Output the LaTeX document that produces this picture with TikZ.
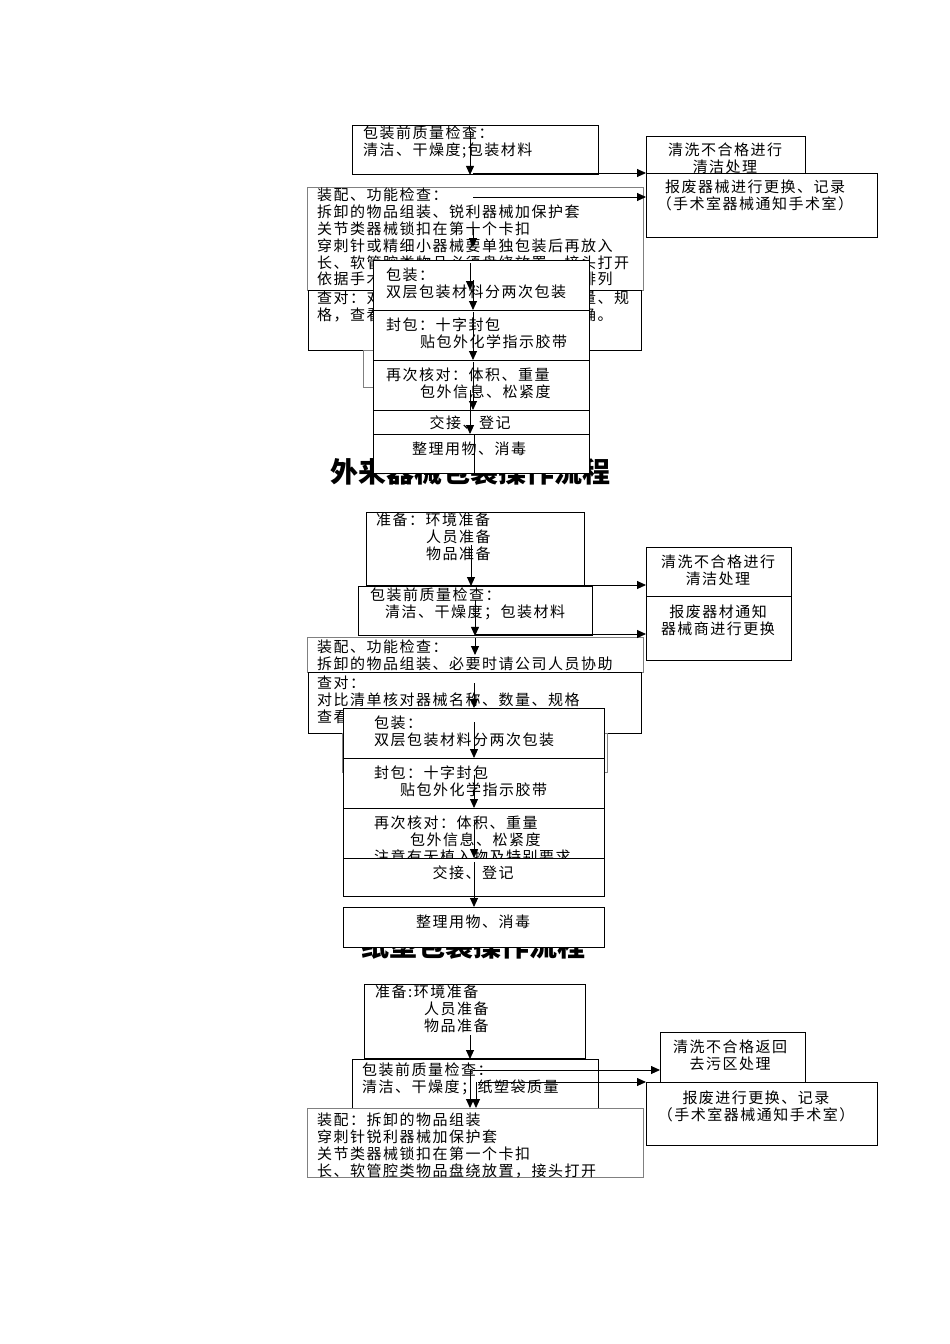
\documentclass[tikz,border=0pt]{standalone}
\usepackage{fontspec}
\newfontfamily\cjk[LetterSpace=10]{Noto Sans CJK SC}
\newfontfamily\cjkhei{Noto Sans CJK SC}
\usetikzlibrary{arrows.meta}
\tikzset{
    box/.style={draw, fill=white, line width=0.9pt, inner sep=0pt, anchor=north west}, % 流程方框
    gray box/.style={box, draw=black!50}, % 灰色边框
    txt/.style={anchor=north west, align=left, inner sep=0pt, font={\cjk\fontsize{15}{16.8}\selectfont}}, % 框内文字
    ctxt/.style={txt, anchor=north, align=center},
    flow arrow/.style={line width=0.9pt, -{Triangle[length=9pt, width=8pt]}}, % 流程箭头
    title text/.style={font={\cjkhei\bfseries\fontsize{28}{32}\selectfont}} % 标题
}

\begin{document}
\begin{tikzpicture}[x=1pt, y=-1pt]
    \useasboundingbox (0,0) rectangle (950,1344);

    % 第一部分
    \node[box, minimum width=246pt, minimum height=49pt] (chk1) at (352,125) {};
    \node[txt] at (363,126) {包装前质量检查：\\清洁、干燥度;包装材料};
    \node[box, minimum width=159pt, minimum height=40pt] (rinse1) at (646,136) {};
    \node[ctxt] at (725,143) {清洗不合格进行\\清洁处理};
    \node[box, minimum width=231pt, minimum height=64pt] (scrap1) at (646,173) {};
    \node[ctxt] at (755,180) {报废器械进行更换、记录\\（手术室器械通知手术室）};
    \node[gray box, minimum width=336pt, minimum height=103pt] (assem1) at (307,187) {};
    \node[txt] at (317,188) {装配、功能检查：\\拆卸的物品组装、锐利器械加保护套\\关节类器械锁扣在第十个卡扣\\穿刺针或精细小器械要单独包装后再放入\\长、软管腔类物品必须盘绕放置，接头打开\\依据手术器械的使用顺序及清单进行排列};
    \node[box, minimum width=333pt, minimum height=60pt] (check1) at (308,290) {};
    \node[txt] at (317,291) {查对：对照清单核对器械的名称、数量、规\\格，查看器械功能是否完好、组装正确。};
    \node[gray box, minimum width=226pt, minimum height=37pt] (stub1) at (363,350) {};
    \node[box, minimum width=216pt, minimum height=50pt] (pk1) at (373,260) {};
    \node[txt] at (386,268) {包装：\\双层包装材料分两次包装};
    \node[box, minimum width=216pt, minimum height=50pt] (seal1) at (373,310) {};
    \node[txt] at (386,318) {封包：十字封包\\\hspace*{34pt}贴包外化学指示胶带};
    \node[box, minimum width=216pt, minimum height=50pt] (rechk1) at (373,360) {};
    \node[txt] at (386,368) {再次核对：体积、重量\\\hspace*{34pt}包外信息、松紧度};
    \node[box, minimum width=216pt, minimum height=24pt] (hand1) at (373,410) {};
    \node[ctxt] at (470,416) {交接、登记};
    \node[title text] (title1) at (470,472) {外来器械包装操作流程};
    \node[box, minimum width=216pt, minimum height=39pt] (tidy1) at (373,434) {};
    \node[ctxt] at (469,442) {整理用物、消毒};

    \foreach \n/\x/\y/\tgt in {a1/470/131/chk1.south, a2/470/263/check1.north, a3/473/280/seal1.north, a4/473/312/rechk1.north, a5/473/362/hand1.north, a6/470/390/tidy1.north}
        {\coordinate (\n) at (\x,\y); \draw[flow arrow] (\n) -- (\n |- \tgt);}
    \foreach \n/\x/\y/\tgt in {b1/473/173/rinse1.west, b2/473/197/scrap1.west}
        {\coordinate (\n) at (\x,\y); \draw[flow arrow] (\n) -- (\n -| \tgt);}
    \coordinate (a7) at (473,229); \coordinate (a7e) at (473,247);
    \draw[flow arrow] (a7) -- (a7e);
    \coordinate (a8) at (474,434);
    \draw[line width=0.9pt] (a8) -- (a8 |- tidy1.south);

    % 第二部分
    \node[box, minimum width=218pt, minimum height=73pt] (prep2) at (366,512) {};
    \node[txt] at (376,513) {准备：环境准备\\\hspace*{50pt}人员准备\\\hspace*{50pt}物品准备};
    \node[box, minimum width=234pt, minimum height=49pt] (chk2) at (358,586) {};
    \node[txt] at (370,588) {包装前质量检查：\\\hspace*{15pt}清洁、干燥度；包装材料};
    \node[box, minimum width=145pt, minimum height=49pt] (rinse2) at (646,547) {};
    \node[ctxt] at (718,555) {清洗不合格进行\\清洁处理};
    \node[box, minimum width=145pt, minimum height=64pt] (scrap2) at (646,596) {};
    \node[ctxt] at (718,605) {报废器材通知\\器械商进行更换};
    \node[gray box, minimum width=336pt, minimum height=35pt] (assem2) at (307,637) {};
    \node[txt] at (317,640) {装配、功能检查：\\拆卸的物品组装、必要时请公司人员协助};
    \node[box, minimum width=333pt, minimum height=61pt] (check2) at (308,672) {};
    \node[txt] at (317,676) {查对：\\对比清单核对器械名称、数量、规格\\查看器械功能是否完好};
    \node[gray box, minimum width=265pt, minimum height=39pt] (stub2) at (342,733) {};
    \node[box, minimum width=261pt, minimum height=50pt] (pk2) at (343,708) {};
    \node[txt] at (374,716) {包装：\\双层包装材料分两次包装};
    \node[box, minimum width=261pt, minimum height=50pt] (seal2) at (343,758) {};
    \node[txt] at (374,766) {封包：十字封包\\\hspace*{26pt}贴包外化学指示胶带};
    \node[box, minimum width=261pt, minimum height=50pt] (rechk2) at (343,808) {};
    \node[txt] at (374,816) {再次核对：体积、重量\\\hspace*{36pt}包外信息、松紧度\\注意有无植入物及特别要求};
    \node[box, minimum width=261pt, minimum height=38pt] (hand2) at (343,858) {};
    \node[ctxt] at (473,866) {交接、登记};
    \node[title text] (title2) at (473,946) {纸塑包装操作流程};
    \node[box, minimum width=261pt, minimum height=40pt] (tidy2) at (343,907) {};
    \node[ctxt] at (473,915) {整理用物、消毒};

    \foreach \n/\x/\y/\tgt in {c1/471/545/chk2.north, c2/475/600/chk2.south, c3/474/683/pk2.north, c4/474/722/seal2.north, c5/474/775/rechk2.north, c6/474/820/hand2.north, c7/474/862/tidy2.north}
        {\coordinate (\n) at (\x,\y); \draw[flow arrow] (\n) -- (\n |- \tgt);}
    \foreach \n/\x/\y/\tgt in {d1/488/585/rinse2.west, d2/475/634/scrap2.west}
        {\coordinate (\n) at (\x,\y); \draw[flow arrow] (\n) -- (\n -| \tgt);}
    \coordinate (c8) at (475,638); \coordinate (c8e) at (475,655);
    \draw[flow arrow] (c8) -- (c8e);

    % 第三部分
    \node[box, minimum width=221pt, minimum height=74pt] (prep3) at (364,984) {};
    \node[txt] at (375,985) {准备:环境准备\\\hspace*{49pt}人员准备\\\hspace*{49pt}物品准备};
    \node[box, minimum width=246pt, minimum height=49pt] (chk3) at (352,1059) {};
    \node[txt] at (362,1063) {包装前质量检查：\\清洁、干燥度；纸塑袋质量};
    \node[box, minimum width=145pt, minimum height=50pt] (rinse3) at (660,1032) {};
    \node[ctxt] at (730,1040) {清洗不合格返回\\去污区处理};
    \node[box, minimum width=231pt, minimum height=63pt] (scrap3) at (646,1082) {};
    \node[ctxt] at (756,1091) {报废进行更换、记录\\（手术室器械通知手术室）};
    \node[gray box, minimum width=336pt, minimum height=69pt] (assem3) at (307,1108) {};
    \node[txt] at (317,1113) {装配：拆卸的物品组装\\穿刺针锐利器械加保护套\\关节类器械锁扣在第一个卡扣\\长、软管腔类物品盘绕放置，接头打开};

    \foreach \n/\x/\y/\tgt in {e1/470/1035/chk3.north, e2/470/1070/assem3.north, e3/476/1082/assem3.north}
        {\coordinate (\n) at (\x,\y); \draw[flow arrow] (\n) -- (\n |- \tgt);}
    \foreach \n/\x/\y/\tgt in {f1/473/1070/rinse3.west, f2/478/1082/scrap3.west}
        {\coordinate (\n) at (\x,\y); \draw[flow arrow] (\n) -- (\n -| \tgt);}
\end{tikzpicture}
\end{document}
